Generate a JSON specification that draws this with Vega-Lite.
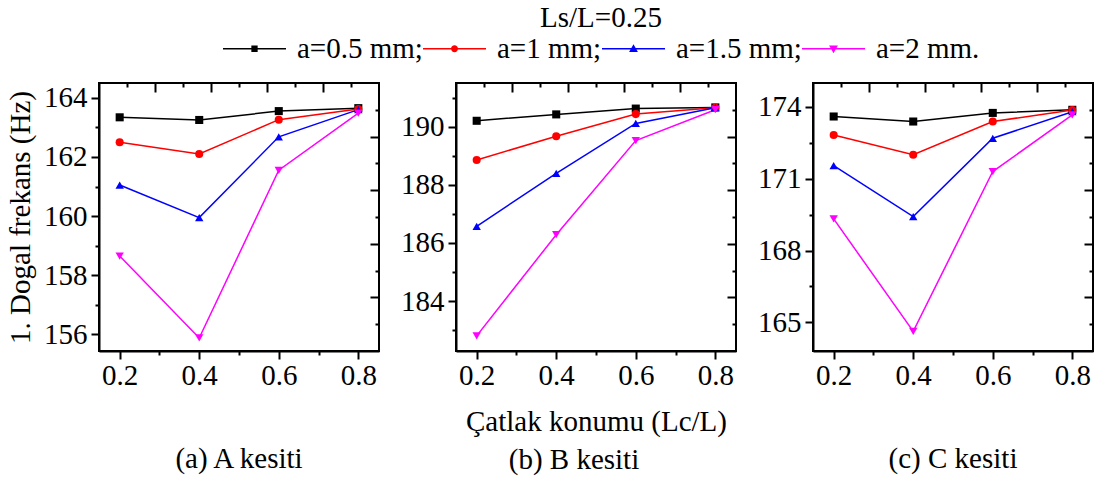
{
  "$schema": "https://vega.github.io/schema/vega-lite/v6.json",
  "bounds": "flush",
  "spacing": 77,
  "padding": {"left": 5, "top": 4, "right": 0, "bottom": 4},
  "data": {"values": [
    {"panel": "A", "Lc": 0.2, "series": "a=0.5 mm;", "freq": 163.34},
    {"panel": "A", "Lc": 0.4, "series": "a=0.5 mm;", "freq": 163.25},
    {"panel": "A", "Lc": 0.6, "series": "a=0.5 mm;", "freq": 163.55},
    {"panel": "A", "Lc": 0.8, "series": "a=0.5 mm;", "freq": 163.65},
    {"panel": "A", "Lc": 0.2, "series": "a=1 mm;", "freq": 162.5},
    {"panel": "A", "Lc": 0.4, "series": "a=1 mm;", "freq": 162.1},
    {"panel": "A", "Lc": 0.6, "series": "a=1 mm;", "freq": 163.26},
    {"panel": "A", "Lc": 0.8, "series": "a=1 mm;", "freq": 163.62},
    {"panel": "A", "Lc": 0.2, "series": "a=1.5 mm;", "freq": 161.05},
    {"panel": "A", "Lc": 0.4, "series": "a=1.5 mm;", "freq": 159.95},
    {"panel": "A", "Lc": 0.6, "series": "a=1.5 mm;", "freq": 162.68},
    {"panel": "A", "Lc": 0.8, "series": "a=1.5 mm;", "freq": 163.6},
    {"panel": "A", "Lc": 0.2, "series": "a=2 mm.", "freq": 158.65},
    {"panel": "A", "Lc": 0.4, "series": "a=2 mm.", "freq": 155.88},
    {"panel": "A", "Lc": 0.6, "series": "a=2 mm.", "freq": 161.55},
    {"panel": "A", "Lc": 0.8, "series": "a=2 mm.", "freq": 163.48},
    {"panel": "B", "Lc": 0.2, "series": "a=0.5 mm;", "freq": 190.2},
    {"panel": "B", "Lc": 0.4, "series": "a=0.5 mm;", "freq": 190.42},
    {"panel": "B", "Lc": 0.6, "series": "a=0.5 mm;", "freq": 190.62},
    {"panel": "B", "Lc": 0.8, "series": "a=0.5 mm;", "freq": 190.66},
    {"panel": "B", "Lc": 0.2, "series": "a=1 mm;", "freq": 188.85},
    {"panel": "B", "Lc": 0.4, "series": "a=1 mm;", "freq": 189.67},
    {"panel": "B", "Lc": 0.6, "series": "a=1 mm;", "freq": 190.43},
    {"panel": "B", "Lc": 0.8, "series": "a=1 mm;", "freq": 190.65},
    {"panel": "B", "Lc": 0.2, "series": "a=1.5 mm;", "freq": 186.57},
    {"panel": "B", "Lc": 0.4, "series": "a=1.5 mm;", "freq": 188.39},
    {"panel": "B", "Lc": 0.6, "series": "a=1.5 mm;", "freq": 190.11},
    {"panel": "B", "Lc": 0.8, "series": "a=1.5 mm;", "freq": 190.65},
    {"panel": "B", "Lc": 0.2, "series": "a=2 mm.", "freq": 182.8},
    {"panel": "B", "Lc": 0.4, "series": "a=2 mm.", "freq": 186.28},
    {"panel": "B", "Lc": 0.6, "series": "a=2 mm.", "freq": 189.52},
    {"panel": "B", "Lc": 0.8, "series": "a=2 mm.", "freq": 190.58},
    {"panel": "C", "Lc": 0.2, "series": "a=0.5 mm;", "freq": 173.6},
    {"panel": "C", "Lc": 0.4, "series": "a=0.5 mm;", "freq": 173.39},
    {"panel": "C", "Lc": 0.6, "series": "a=0.5 mm;", "freq": 173.75},
    {"panel": "C", "Lc": 0.8, "series": "a=0.5 mm;", "freq": 173.88},
    {"panel": "C", "Lc": 0.2, "series": "a=1 mm;", "freq": 172.83},
    {"panel": "C", "Lc": 0.4, "series": "a=1 mm;", "freq": 172.0},
    {"panel": "C", "Lc": 0.6, "series": "a=1 mm;", "freq": 173.39},
    {"panel": "C", "Lc": 0.8, "series": "a=1 mm;", "freq": 173.87},
    {"panel": "C", "Lc": 0.2, "series": "a=1.5 mm;", "freq": 171.55},
    {"panel": "C", "Lc": 0.4, "series": "a=1.5 mm;", "freq": 169.42},
    {"panel": "C", "Lc": 0.6, "series": "a=1.5 mm;", "freq": 172.69},
    {"panel": "C", "Lc": 0.8, "series": "a=1.5 mm;", "freq": 173.8},
    {"panel": "C", "Lc": 0.2, "series": "a=2 mm.", "freq": 169.32},
    {"panel": "C", "Lc": 0.4, "series": "a=2 mm.", "freq": 164.62},
    {"panel": "C", "Lc": 0.6, "series": "a=2 mm.", "freq": 171.3},
    {"panel": "C", "Lc": 0.8, "series": "a=2 mm.", "freq": 173.67}
  ]},
  "resolve": {"scale": {"color": "shared", "shape": "shared"}, "legend": {"color": "shared"}},
  "config": {
    "font": "Liberation Serif",
    "view": {"stroke": "black", "strokeWidth": 2},
    "axis": {"labelFont": "Liberation Serif", "labelFontSize": 29, "labelColor": "black", "titleFont": "Liberation Serif", "titleFontSize": 29, "titleFontWeight": "normal", "titleColor": "black", "tickColor": "black", "tickWidth": 2, "domainColor": "black", "domainWidth": 2, "grid": false, "labelFlush": false, "labelOverlap": false},
    "title": {"font": "Liberation Serif", "fontSize": 29, "fontWeight": "normal", "color": "black"},
    "legend": {"labelFont": "Liberation Serif", "labelFontSize": 29, "labelColor": "black", "titleFont": "Liberation Serif", "titleFontSize": 29, "titleFontWeight": "normal", "titleColor": "black"}
  },
  "hconcat": [
    {
      "width": 280, "height": 268,
      "transform": [{"filter": "datum.panel == 'A'"}],
      "title": {"text": "(a) A kesiti", "orient": "bottom", "offset": 55},
      "resolve": {"scale": {"x": "independent", "y": "independent"}, "axis": {"x": "independent", "y": "independent"}},
      "layer": [
        {"mark": {"type": "line", "strokeWidth": 1.5},
         "encoding": {
           "x": {"field": "Lc", "type": "quantitative", "scale": {"domain": [0.148, 0.852], "nice": false, "zero": false},
                 "axis": {"orient": "bottom", "title": null, "values": [0.2, 0.3, 0.4, 0.5, 0.6, 0.7, 0.8], "format": ".1f", "labelExpr": "round(datum.value*10) % 2 == 0 ? datum.label : ''", "tickSize": {"condition": {"test": "round(datum.value*10) % 2 == 0", "value": 8}, "value": 4}, "labelPadding": 2}},
           "y": {"field": "freq", "type": "quantitative", "scale": {"domain": [155.44, 164.5], "nice": false, "zero": false},
                 "axis": {"orient": "left", "title": "1. Dogal frekans (Hz)", "titlePadding": 8, "values": [156, 157, 158, 159, 160, 161, 162, 163, 164], "format": "d", "labelExpr": "datum.value % 2 == 0 ? datum.label : ''", "tickSize": {"condition": {"test": "datum.value % 2 == 0", "value": 8}, "value": 4}, "labelPadding": 4}},
           "color": {"field": "series", "type": "nominal",
                     "scale": {"domain": ["a=0.5 mm;", "a=1 mm;", "a=1.5 mm;", "a=2 mm."], "range": ["#000000", "#ff0000", "#0000ff", "#ff00ff"]},
                     "legend": {"orient": "none", "legendX": 124, "legendY": -79, "direction": "horizontal", "title": "Ls/L=0.25", "titleOrient": "top", "titleAnchor": "middle", "titlePadding": -16, "padding": 0, "symbolSize": 3969, "symbolStrokeWidth": 0, "labelOffset": 11, "columnPadding": 0}}
         }},
        {"transform": [{"filter": "datum.series == 'a=0.5 mm;'"}], "mark": {"type": "point", "filled": true, "size": 65, "opacity": 1, "shape": "square"},
         "encoding": {"x": {"field": "Lc", "type": "quantitative", "scale": {"domain": [0.148, 0.852], "nice": false, "zero": false}, "axis": null}, "y": {"field": "freq", "type": "quantitative", "scale": {"domain": [155.44, 164.5], "nice": false, "zero": false}, "axis": null}, "color": {"field": "series", "type": "nominal"}}},
        {"transform": [{"filter": "datum.series == 'a=1 mm;'"}], "mark": {"type": "point", "filled": true, "size": 65, "opacity": 1, "shape": "circle"},
         "encoding": {"x": {"field": "Lc", "type": "quantitative", "scale": {"domain": [0.148, 0.852], "nice": false, "zero": false}, "axis": null}, "y": {"field": "freq", "type": "quantitative", "scale": {"domain": [155.44, 164.5], "nice": false, "zero": false}, "axis": null}, "color": {"field": "series", "type": "nominal"}}},
        {"transform": [{"filter": "datum.series == 'a=1.5 mm;'"}], "mark": {"type": "point", "filled": true, "size": 70, "opacity": 1, "shape": "triangle-up"},
         "encoding": {"x": {"field": "Lc", "type": "quantitative", "scale": {"domain": [0.148, 0.852], "nice": false, "zero": false}, "axis": null}, "y": {"field": "freq", "type": "quantitative", "scale": {"domain": [155.44, 164.5], "nice": false, "zero": false}, "axis": null}, "color": {"field": "series", "type": "nominal"}}},
        {"transform": [{"filter": "datum.series == 'a=2 mm.'"}], "mark": {"type": "point", "filled": true, "size": 70, "opacity": 1, "shape": "triangle-down"},
         "encoding": {"x": {"field": "Lc", "type": "quantitative", "scale": {"domain": [0.148, 0.852], "nice": false, "zero": false}, "axis": null}, "y": {"field": "freq", "type": "quantitative", "scale": {"domain": [155.44, 164.5], "nice": false, "zero": false}, "axis": null}, "color": {"field": "series", "type": "nominal"}}},
        {"mark": {"type": "point", "filled": true, "size": 0},
         "encoding": {
           "x": {"datum": 5, "type": "quantitative", "scale": {"domain": [0, 10], "nice": false, "zero": false},
                 "axis": {"orient": "top", "title": null, "labels": false, "domain": false, "values": [1, 2, 3, 4, 5, 6, 7, 8, 9], "tickSize": {"condition": {"test": "datum.value % 2 == 0", "value": -9}, "value": -4}}},
           "y": {"datum": 5, "type": "quantitative", "scale": {"domain": [0, 10], "nice": false, "zero": false},
                 "axis": {"orient": "right", "title": null, "labels": false, "domain": false, "values": [1, 2, 3, 4, 5, 6, 7, 8, 9], "tickSize": {"condition": {"test": "datum.value % 2 == 0", "value": -9}, "value": -4}}},
           "color": {"field": "series", "type": "nominal"},
           "shape": {"field": "series", "type": "nominal", "legend": null,
                     "scale": {"domain": ["a=0.5 mm;", "a=1 mm;", "a=1.5 mm;", "a=2 mm."],
                               "range": ["M-1,-0.025H1V0.025H-1ZM-0.1,-0.1H0.1V0.1H-0.1Z", "M-1,-0.025H1V0.025H-1ZM-0.11,0A0.11,0.11 0 1,1 0.11,0A0.11,0.11 0 1,1 -0.11,0Z", "M-1,-0.025H1V0.025H-1ZM0,-0.14L0.14,0.1H-0.14Z", "M-1,-0.025H1V0.025H-1ZM0,0.14L-0.14,-0.1H0.14Z"]}}
         }}
      ]
    },
    {
      "width": 280, "height": 268,
      "transform": [{"filter": "datum.panel == 'B'"}],
      "title": {"text": "(b) B kesiti", "orient": "bottom", "offset": 10, "dx": -22},
      "resolve": {"scale": {"x": "independent", "y": "independent"}, "axis": {"x": "independent", "y": "independent"}},
      "layer": [
        {"mark": {"type": "line", "strokeWidth": 1.5},
         "encoding": {
           "x": {"field": "Lc", "type": "quantitative", "scale": {"domain": [0.148, 0.852], "nice": false, "zero": false},
                 "axis": {"orient": "bottom", "title": "Çatlak konumu (Lc/L)", "titlePadding": 17, "values": [0.2, 0.3, 0.4, 0.5, 0.6, 0.7, 0.8], "format": ".1f", "labelExpr": "round(datum.value*10) % 2 == 0 ? datum.label : ''", "tickSize": {"condition": {"test": "round(datum.value*10) % 2 == 0", "value": 8}, "value": 4}, "labelPadding": 2}},
           "y": {"field": "freq", "type": "quantitative", "scale": {"domain": [182.28, 191.5], "nice": false, "zero": false},
                 "axis": {"orient": "left", "title": null, "values": [183, 184, 185, 186, 187, 188, 189, 190, 191], "format": "d", "labelExpr": "datum.value % 2 == 0 ? datum.label : ''", "tickSize": {"condition": {"test": "datum.value % 2 == 0", "value": 8}, "value": 4}, "labelPadding": 4}},
           "color": {"field": "series", "type": "nominal"}
         }},
        {"transform": [{"filter": "datum.series == 'a=0.5 mm;'"}], "mark": {"type": "point", "filled": true, "size": 65, "opacity": 1, "shape": "square"},
         "encoding": {"x": {"field": "Lc", "type": "quantitative", "scale": {"domain": [0.148, 0.852], "nice": false, "zero": false}, "axis": null}, "y": {"field": "freq", "type": "quantitative", "scale": {"domain": [182.28, 191.5], "nice": false, "zero": false}, "axis": null}, "color": {"field": "series", "type": "nominal"}}},
        {"transform": [{"filter": "datum.series == 'a=1 mm;'"}], "mark": {"type": "point", "filled": true, "size": 65, "opacity": 1, "shape": "circle"},
         "encoding": {"x": {"field": "Lc", "type": "quantitative", "scale": {"domain": [0.148, 0.852], "nice": false, "zero": false}, "axis": null}, "y": {"field": "freq", "type": "quantitative", "scale": {"domain": [182.28, 191.5], "nice": false, "zero": false}, "axis": null}, "color": {"field": "series", "type": "nominal"}}},
        {"transform": [{"filter": "datum.series == 'a=1.5 mm;'"}], "mark": {"type": "point", "filled": true, "size": 70, "opacity": 1, "shape": "triangle-up"},
         "encoding": {"x": {"field": "Lc", "type": "quantitative", "scale": {"domain": [0.148, 0.852], "nice": false, "zero": false}, "axis": null}, "y": {"field": "freq", "type": "quantitative", "scale": {"domain": [182.28, 191.5], "nice": false, "zero": false}, "axis": null}, "color": {"field": "series", "type": "nominal"}}},
        {"transform": [{"filter": "datum.series == 'a=2 mm.'"}], "mark": {"type": "point", "filled": true, "size": 70, "opacity": 1, "shape": "triangle-down"},
         "encoding": {"x": {"field": "Lc", "type": "quantitative", "scale": {"domain": [0.148, 0.852], "nice": false, "zero": false}, "axis": null}, "y": {"field": "freq", "type": "quantitative", "scale": {"domain": [182.28, 191.5], "nice": false, "zero": false}, "axis": null}, "color": {"field": "series", "type": "nominal"}}},
        {"mark": {"type": "point", "filled": true, "size": 0},
         "encoding": {
           "x": {"datum": 5, "type": "quantitative", "scale": {"domain": [0, 10], "nice": false, "zero": false},
                 "axis": {"orient": "top", "title": null, "labels": false, "domain": false, "values": [1, 2, 3, 4, 5, 6, 7, 8, 9], "tickSize": {"condition": {"test": "datum.value % 2 == 0", "value": -9}, "value": -4}}},
           "y": {"datum": 5, "type": "quantitative", "scale": {"domain": [0, 10], "nice": false, "zero": false},
                 "axis": {"orient": "right", "title": null, "labels": false, "domain": false, "values": [1, 2, 3, 4, 5, 6, 7, 8, 9], "tickSize": {"condition": {"test": "datum.value % 2 == 0", "value": -9}, "value": -4}}},
           "color": {"field": "series", "type": "nominal"},
           "shape": {"field": "series", "type": "nominal", "legend": null}
         }}
      ]
    },
    {
      "width": 280, "height": 268,
      "transform": [{"filter": "datum.panel == 'C'"}],
      "title": {"text": "(c) C kesiti", "orient": "bottom", "offset": 55},
      "resolve": {"scale": {"x": "independent", "y": "independent"}, "axis": {"x": "independent", "y": "independent"}},
      "layer": [
        {"mark": {"type": "line", "strokeWidth": 1.5},
         "encoding": {
           "x": {"field": "Lc", "type": "quantitative", "scale": {"domain": [0.148, 0.852], "nice": false, "zero": false},
                 "axis": {"orient": "bottom", "title": null, "values": [0.2, 0.3, 0.4, 0.5, 0.6, 0.7, 0.8], "format": ".1f", "labelExpr": "round(datum.value*10) % 2 == 0 ? datum.label : ''", "tickSize": {"condition": {"test": "round(datum.value*10) % 2 == 0", "value": 8}, "value": 4}, "labelPadding": 2}},
           "y": {"field": "freq", "type": "quantitative", "scale": {"domain": [163.8, 175.0], "nice": false, "zero": false},
                 "axis": {"orient": "left", "title": null, "values": [165, 166.5, 168, 169.5, 171, 172.5, 174], "format": "d", "labelExpr": "round(datum.value*2) % 6 == 0 ? datum.label : ''", "tickSize": {"condition": {"test": "round(datum.value*2) % 6 == 0", "value": 8}, "value": 4}, "labelPadding": 4}},
           "color": {"field": "series", "type": "nominal"}
         }},
        {"transform": [{"filter": "datum.series == 'a=0.5 mm;'"}], "mark": {"type": "point", "filled": true, "size": 65, "opacity": 1, "shape": "square"},
         "encoding": {"x": {"field": "Lc", "type": "quantitative", "scale": {"domain": [0.148, 0.852], "nice": false, "zero": false}, "axis": null}, "y": {"field": "freq", "type": "quantitative", "scale": {"domain": [163.8, 175.0], "nice": false, "zero": false}, "axis": null}, "color": {"field": "series", "type": "nominal"}}},
        {"transform": [{"filter": "datum.series == 'a=1 mm;'"}], "mark": {"type": "point", "filled": true, "size": 65, "opacity": 1, "shape": "circle"},
         "encoding": {"x": {"field": "Lc", "type": "quantitative", "scale": {"domain": [0.148, 0.852], "nice": false, "zero": false}, "axis": null}, "y": {"field": "freq", "type": "quantitative", "scale": {"domain": [163.8, 175.0], "nice": false, "zero": false}, "axis": null}, "color": {"field": "series", "type": "nominal"}}},
        {"transform": [{"filter": "datum.series == 'a=1.5 mm;'"}], "mark": {"type": "point", "filled": true, "size": 70, "opacity": 1, "shape": "triangle-up"},
         "encoding": {"x": {"field": "Lc", "type": "quantitative", "scale": {"domain": [0.148, 0.852], "nice": false, "zero": false}, "axis": null}, "y": {"field": "freq", "type": "quantitative", "scale": {"domain": [163.8, 175.0], "nice": false, "zero": false}, "axis": null}, "color": {"field": "series", "type": "nominal"}}},
        {"transform": [{"filter": "datum.series == 'a=2 mm.'"}], "mark": {"type": "point", "filled": true, "size": 70, "opacity": 1, "shape": "triangle-down"},
         "encoding": {"x": {"field": "Lc", "type": "quantitative", "scale": {"domain": [0.148, 0.852], "nice": false, "zero": false}, "axis": null}, "y": {"field": "freq", "type": "quantitative", "scale": {"domain": [163.8, 175.0], "nice": false, "zero": false}, "axis": null}, "color": {"field": "series", "type": "nominal"}}},
        {"mark": {"type": "point", "filled": true, "size": 0},
         "encoding": {
           "x": {"datum": 5, "type": "quantitative", "scale": {"domain": [0, 10], "nice": false, "zero": false},
                 "axis": {"orient": "top", "title": null, "labels": false, "domain": false, "values": [1, 2, 3, 4, 5, 6, 7, 8, 9], "tickSize": {"condition": {"test": "datum.value % 2 == 0", "value": -9}, "value": -4}}},
           "y": {"datum": 5, "type": "quantitative", "scale": {"domain": [0, 10], "nice": false, "zero": false},
                 "axis": {"orient": "right", "title": null, "labels": false, "domain": false, "values": [1, 2, 3, 4, 5, 6, 7, 8, 9], "tickSize": {"condition": {"test": "datum.value % 2 == 0", "value": -9}, "value": -4}}},
           "color": {"field": "series", "type": "nominal"},
           "shape": {"field": "series", "type": "nominal", "legend": null}
         }}
      ]
    }
  ]
}
